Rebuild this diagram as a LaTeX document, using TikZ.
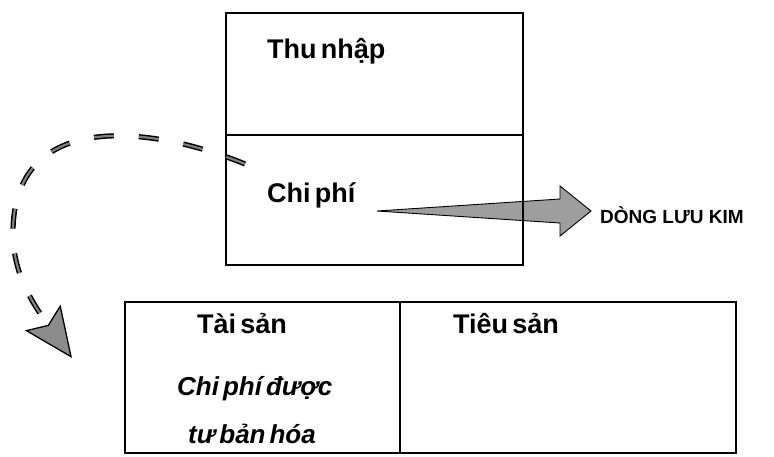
\documentclass[tikz,border=0pt]{standalone}
\usepackage{fontspec}
\setmainfont[WordSpace=0.55]{Liberation Sans}
\newfontfamily\capsfont{Liberation Sans}
\usetikzlibrary{arrows.meta,calc}

\tikzset{
  box/.style={draw, line width=1.2pt, inner sep=0pt},
  lbl/.style={font=\bfseries\fontsize{27}{30}\selectfont, inner sep=0pt, anchor=base west},
  ilbl/.style={lbl, font=\bfseries\itshape\fontsize{26}{30}\selectfont},
  dashflow/.style={line width=1.5pt, double=black!50, double distance=2.2pt,
    dash pattern=on 20pt off 25pt,
    -{Stealth[length=50pt, width=44pt, inset=9pt, fill=black!45, line width=1.3pt]}},
}

\begin{document}
\begin{tikzpicture}[x=1pt, y=-1pt]
  %%%%% START %%%%%
  \useasboundingbox (0,0) rectangle (774,456);

  % big flow arrow
  \coordinate (flowtail) at (377,211);
  \coordinate (flowtip) at (591,211);
  \filldraw[fill=black!38, draw=black, line width=0.9pt] (flowtail) -- ($(flowtip)+(-31,-12)$) -- ($(flowtip)+(-31,-25)$)
    -- (flowtip) -- ($(flowtip)+(-31,25)$) -- ($(flowtip)+(-31,12)$) -- cycle;

  \node[box, minimum width=297pt, minimum height=122pt] (thu) at (374.5,74) {};
  \node[box, minimum width=297pt, minimum height=130pt] (chi) at (374.5,200) {};
  \node[box, minimum width=275pt, minimum height=151pt] (ts) at (262.5,377.5) {};
  \node[box, minimum width=336pt, minimum height=151pt] (tieu) at (568,377.5) {};

  \node[lbl] (thutext) at (267,58) {Thu nhập};
  \node[lbl] (chitext) at (267,202) {Chi phí};
  \node[lbl] (tstext) at (197,333) {Tài sản};
  \node[ilbl] (cptext) at (177,395) {Chi phí được};
  \node[ilbl] (tbtext) at (188,443) {tư bản hóa};
  \node[lbl] (tieutext) at (453,333) {Tiêu sản};
  \node[lbl, font=\capsfont\bfseries\fontsize{19}{24}\selectfont] (dong) at (600,223) {DÒNG LƯU KIM};

  % dashed loop
  \coordinate (loopstart) at (245,164);
  \coordinate (loopleft) at (13,230);
  \coordinate (loopend) at (72,358);
  \draw[dashflow] (loopstart) .. controls (150,125) and (15,110) .. (loopleft)
    .. controls (12,270) and (30,300) .. (loopend);
  %%%%% END %%%%%
\end{tikzpicture}
\end{document}
